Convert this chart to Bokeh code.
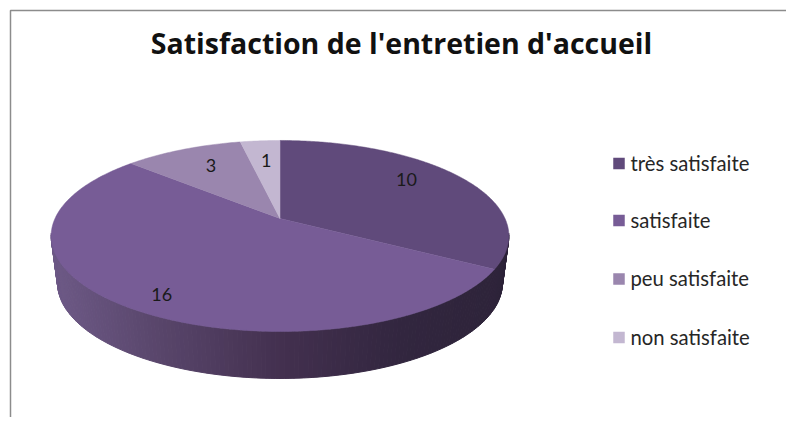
import math
from bokeh.plotting import figure
from bokeh.models import Range1d, ColumnDataSource
from bokeh.core.properties import value
from bokeh.embed import file_html
from bokeh.resources import INLINE

title = "Satisfaction de l'entretien d'accueil"
categories = ["très satisfaite", "satisfaite", "peu satisfaite", "non satisfaite"]
counts = [10, 16, 3, 1]
colors = ["#604a7b", "#775c96", "#9a86ae", "#c3b7d1"]

# pie geometry (picture pixels) and perspective of the tilted disc
CX, CY, AX, AY, K = 279.5, 218.0, 225.0, 92.3, -0.183
DEPTH, SHRINK = 47.0, 0.972
label_r = [0.69, 0.79, 0.68, 0.66]
label_dy = [-9, 9, -4, -4]
wall_stops = [(51, "#6d5986"), (165, "#574469"), (280, "#43304f"), (400, "#32263f"), (509, "#2d2339")]

W, H = 786, 417
p = figure(width=W, height=H, output_backend="svg", toolbar_location=None,
           x_range=Range1d(0, W), y_range=Range1d(H, 0),
           min_border=0, outline_line_color=None, background_fill_color="white",
           border_fill_color="white")
p.xaxis.visible = False
p.yaxis.visible = False
p.grid.visible = False


def project(theta, r=1.0):
    u, v = r * math.sin(theta), -r * math.cos(theta)
    w = 1 + K * v
    return AX * u / w, AY * v / w


def hex2rgb(c):
    return [int(c[i:i + 2], 16) for i in (1, 3, 5)]


def wall_color(x):
    for (x0, c0), (x1, c1) in zip(wall_stops, wall_stops[1:]):
        if x <= x1:
            t = max(0.0, (x - x0) / (x1 - x0))
            a, b = hex2rgb(c0), hex2rgb(c1)
            return "#%02x%02x%02x" % tuple(round(a[i] + (b[i] - a[i]) * t) for i in range(3))
    return wall_stops[-1][1]


total = sum(counts)
edges = [0.0]
for c in counts:
    edges.append(edges[-1] + c / total * 2 * math.pi)

# side wall: thin quads following the rim, visible on the front half
xs, ys, cs = [], [], []
N = 360
for i in range(N):
    t0, t1 = 2 * math.pi * i / N, 2 * math.pi * (i + 1) / N
    x0, y0 = project(t0)
    x1, y1 = project(t1)
    if max(y0, y1) < 15:
        continue
    xs.append([CX + x0, CX + x1, CX + x1 * SHRINK, CX + x0 * SHRINK])
    ys.append([CY + y0, CY + y1, CY + y1 + DEPTH, CY + y0 + DEPTH])
    cs.append(wall_color(CX + (x0 + x1) / 2))
p.patches(xs, ys, fill_color=cs, line_color=cs, line_width=1)

# top face
for a, b, col in zip(edges, edges[1:], colors):
    n = max(4, int((b - a) * 90))
    pts = [project(a + (b - a) * j / n) for j in range(n + 1)]
    p.patch([CX] + [CX + q[0] for q in pts], [CY] + [CY + q[1] for q in pts],
            fill_color=col, line_color=col, line_width=0.5)

# data labels
lx, ly, lt = [], [], []
for a, b, c, r in zip(edges, edges[1:], counts, label_r):
    q = project((a + b) / 2, r)
    lx.append(CX + q[0])
    ly.append(CY + q[1])
    lt.append(str(c))
p.text(x="x", y="y", text="t", y_offset="o",
       source=ColumnDataSource(dict(x=lx, y=ly, t=lt, o=label_dy)),
       text_font=value("Lato"), text_font_size="18px", text_color="#1a1a1a",
       text_align="center", text_baseline="middle")

# legend
LEG_Y = [163, 220, 278.5, 337]
p.scatter([618.5] * 4, LEG_Y, marker="square", size=11.5, fill_color=colors, line_color=None)
p.text([630] * 4, [y - 0.8 for y in LEG_Y], text=categories, text_font=value("Lato"), text_font_size="20.3px",
       text_color="#262626", text_align="left", text_baseline="middle")

# title
p.text([401], [42.5], text=[title], text_font=value("Open Sans"), text_font_style="bold",
       text_font_size="28.5px", text_color="#111111", text_align="center", text_baseline="middle")

# frame of the picture
p.line([10, 10, W], [H, 10, 10], line_color="#8c8c8c", line_width=1.5)

open("out.html", "w").write(file_html(p, INLINE))
